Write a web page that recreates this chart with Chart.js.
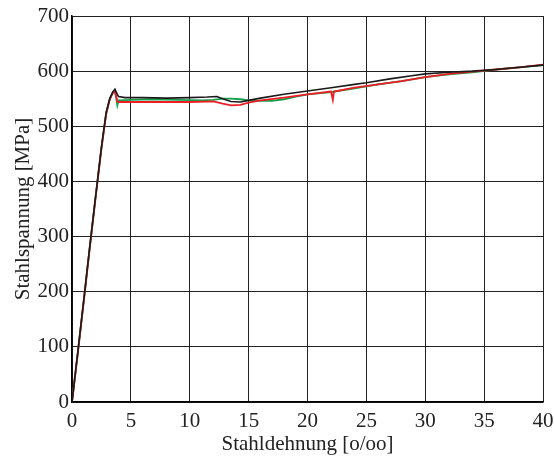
<!DOCTYPE html>
<html>
<head>
<meta charset="utf-8">
<script src="https://cdn.jsdelivr.net/npm/chart.js@4/dist/chart.umd.min.js"></script>
<style>
  html, body { margin: 0; padding: 0; background: #fff; }
  #wrap { width: 555px; height: 459px; }
</style>
</head>
<body>
<div id="wrap"><canvas id="stahl-chart" width="555" height="459"></canvas></div>
<script>
// Stahldehnung [o/oo] / Stahlspannung [MPa]
var blackX = [0, 0.5, 1, 1.5, 2, 2.5, 2.9, 3.2, 3.45, 3.65, 3.8, 3.95, 4.5, 6, 8, 10, 11.5, 12.3, 12.8, 13.5, 14.3, 15, 16, 18, 20, 22, 24, 25, 27, 29, 30, 32, 34, 36, 38, 40];
var blackY = [0, 92, 185, 280, 372, 462, 525, 550, 562, 567, 560, 554, 552, 552, 551, 552, 553, 554, 550, 545, 544, 547, 551, 558, 564, 570, 576, 579, 586, 592, 595, 598, 600, 603, 607, 611];

var redX = [0, 0.5, 1, 1.5, 2, 2.5, 2.9, 3.2, 3.45, 3.62, 3.75, 3.85, 4, 6, 8, 10, 12, 12.8, 13.5, 14.3, 15, 16, 18, 20, 22, 22.15, 22.25, 24, 26, 28, 30, 32, 34, 36, 38, 40];
var redY = [0, 90, 183, 278, 370, 460, 522, 548, 560, 565, 555, 545, 544, 544, 544, 544, 545, 541, 538, 539, 543, 547, 552, 558, 563, 548, 563, 570, 576, 582, 589, 595, 599, 603, 607, 612];

var greenX = [0, 0.5, 1, 1.5, 2, 2.5, 2.9, 3.2, 3.45, 3.6, 3.75, 3.85, 3.95, 5, 7, 9, 11, 12, 12.8, 13.5, 14.3, 15, 16, 17, 18, 19, 20, 22, 24, 26, 28, 30, 32, 34, 36, 38, 40];
var greenY = [0, 91, 184, 279, 371, 461, 523, 549, 561, 565, 552, 538, 547, 548, 549, 548, 547, 548, 550, 550, 549, 547, 546, 546, 549, 554, 558, 562, 569, 576, 582, 589, 594, 598, 603, 607, 611];

var xTicks = [0, 5, 10, 15, 20, 25, 30, 35, 40];
var yTicks = [0, 100, 200, 300, 400, 500, 600, 700];

function toPoints(xs, ys) {
    return xs.map(function(x, i) {
        return { x: x, y: ys[i] };
    });
}

var tickFont = { family: '"Liberation Serif", "DejaVu Serif", serif', size: 21 };

new Chart(document.getElementById('stahl-chart'), {
    type: 'scatter',
    data: {
        datasets: [
            {
                data: toPoints(greenX, greenY),
                borderColor: '#12a04a',
                borderWidth: 1.8,
                showLine: true,
                order: 3
            },
            {
                data: toPoints(redX, redY),
                borderColor: '#ee1c24',
                borderWidth: 1.8,
                showLine: true,
                order: 2
            },
            {
                data: toPoints(blackX, blackY),
                borderColor: '#1a1a1a',
                borderWidth: 1.6,
                showLine: true,
                order: 1
            }
        ]
    },
    options: {
        responsive: false,
        animation: false,
        layout: { padding: { left: 0, right: 12, top: 16, bottom: 2 } },
        elements: { point: { radius: 0 }, line: { tension: 0 } },
        plugins: {
            legend: { display: false },
            tooltip: { enabled: false }
        },
        scales: {
            x: {
                type: 'linear',
                min: 0,
                max: 40,
                afterBuildTicks: function(axis) {
                    axis.ticks = xTicks.map(function(v) { return { value: v }; });
                },
                afterFit: function(axis) {
                    axis.height = 55;
                    axis.paddingLeft = 0;
                    axis.paddingRight = 0;
                },
                grid: { color: '#222', lineWidth: 1, drawTicks: false },
                border: { color: '#000', width: 1.5 },
                ticks: { color: '#222', font: tickFont, padding: 7, maxRotation: 0 },
                title: {
                    display: true,
                    text: 'Stahldehnung [o/oo]',
                    color: '#222',
                    font: tickFont,
                    padding: { top: 0, bottom: 0 }
                }
            },
            y: {
                min: 0,
                max: 700,
                afterBuildTicks: function(axis) {
                    axis.ticks = yTicks.map(function(v) { return { value: v }; });
                },
                afterFit: function(axis) {
                    axis.width = 72;
                    axis.paddingTop = 0;
                    axis.paddingBottom = 0;
                },
                grid: { color: '#222', lineWidth: 1, drawTicks: false },
                border: { color: '#000', width: 1.5 },
                ticks: { color: '#222', font: tickFont, padding: 3 },
                title: {
                    display: true,
                    text: 'Stahlspannung [MPa]',
                    color: '#222',
                    font: tickFont,
                    padding: { top: 11, bottom: 0 }
                }
            }
        }
    }
});
</script>
</body>
</html>
